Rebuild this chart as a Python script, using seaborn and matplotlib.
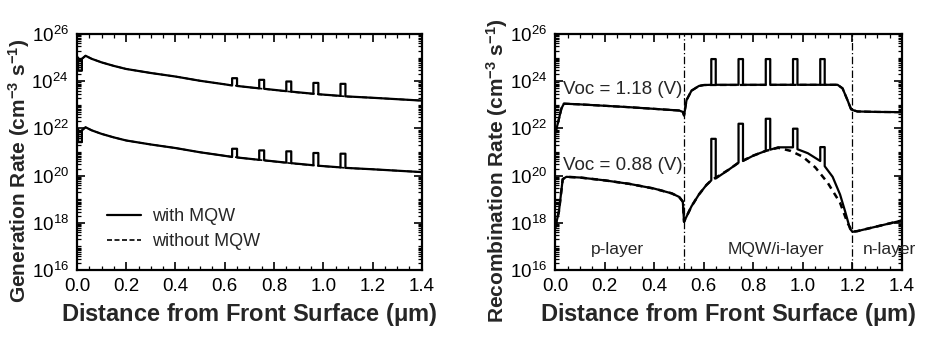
import numpy as np
import pandas as pd
import matplotlib
matplotlib.use("Agg")
import matplotlib.pyplot as plt
import matplotlib.ticker as mticker
import seaborn as sns

# ---------------- data (log10 of rates) ----------------
# Left panel: generation rate, upper curve (with MQW)
gen_hi_x = [0.0, 0.005, 0.005, 0.02, 0.02, 0.035, 0.06, 0.1, 0.15, 0.2, 0.3, 0.4, 0.5, 0.6,
            0.63, 0.63, 0.65, 0.65, 0.74, 0.74, 0.76, 0.76, 0.85, 0.85, 0.87, 0.87,
            0.96, 0.96, 0.98, 0.98, 1.07, 1.07, 1.09, 1.09, 1.2, 1.3, 1.4]
gen_hi_y = [25.0, 25.0, 24.45, 24.45, 24.95, 25.08, 24.95, 24.8, 24.65, 24.52, 24.35, 24.2, 24.02, 23.87,
            23.82, 24.13, 24.13, 23.80, 23.70, 24.06, 24.06, 23.68, 23.58, 23.99, 23.99, 23.56,
            23.47, 23.93, 23.93, 23.45, 23.38, 23.89, 23.89, 23.36, 23.30, 23.24, 23.18]
# upper curve without MQW
gen_hi_nq_x = [0.0, 0.005, 0.005, 0.02, 0.02, 0.035, 0.06, 0.1, 0.15, 0.2, 0.3, 0.4, 0.5, 0.6,
               0.7, 0.8, 0.9, 1.0, 1.1, 1.2, 1.3, 1.4]
gen_hi_nq_y = [25.0, 25.0, 24.45, 24.45, 24.95, 25.08, 24.95, 24.8, 24.65, 24.52, 24.35, 24.2, 24.02, 23.87,
               23.74, 23.63, 23.52, 23.43, 23.35, 23.30, 23.24, 23.18]
# lower curve (with MQW)
gen_lo_x = gen_hi_x
gen_lo_y = [21.97, 21.97, 21.42, 21.42, 21.92, 22.05, 21.92, 21.77, 21.62, 21.49, 21.32, 21.17, 20.99, 20.84,
            20.79, 21.14, 21.14, 20.77, 20.67, 21.07, 21.07, 20.65, 20.55, 21.03, 21.03, 20.53,
            20.44, 20.96, 20.96, 20.42, 20.35, 20.93, 20.93, 20.33, 20.27, 20.21, 20.15]
gen_lo_nq_x = gen_hi_nq_x
gen_lo_nq_y = [21.97, 21.97, 21.42, 21.42, 21.92, 22.05, 21.92, 21.77, 21.62, 21.49, 21.32, 21.17, 20.99, 20.84,
               20.71, 20.60, 20.49, 20.40, 20.32, 20.27, 20.21, 20.15]

# Right panel: recombination rate, Voc = 1.18 V
rec_hi_x = [0.0, 0.01, 0.025, 0.035, 0.1, 0.2, 0.3, 0.4, 0.5, 0.515, 0.52, 0.53, 0.55, 0.58, 0.6,
            0.63, 0.63, 0.648, 0.648, 0.74, 0.74, 0.758, 0.758, 0.85, 0.85, 0.868, 0.868,
            0.96, 0.96, 0.978, 0.978, 1.07, 1.07, 1.088, 1.088, 1.14, 1.16, 1.18, 1.195, 1.22, 1.3, 1.4]
rec_hi_y = [21.8, 22.2, 22.85, 23.05, 23.02, 22.96, 22.9, 22.83, 22.76, 22.7, 22.55, 23.2, 23.6, 23.8, 23.84,
            23.85, 24.94, 24.94, 23.85, 23.85, 24.94, 24.94, 23.85, 23.85, 24.94, 24.94, 23.85,
            23.85, 24.94, 24.94, 23.85, 23.85, 24.94, 24.94, 23.85, 23.85, 23.7, 23.2, 22.8, 22.72, 22.70, 22.69]
rec_hi_nq_x = [0.0, 0.01, 0.025, 0.035, 0.1, 0.2, 0.3, 0.4, 0.5, 0.515, 0.52, 0.53, 0.55, 0.58, 0.6,
               1.14, 1.16, 1.18, 1.195, 1.22, 1.3, 1.4]
rec_hi_nq_y = [21.8, 22.2, 22.85, 23.05, 23.02, 22.96, 22.9, 22.83, 22.76, 22.7, 22.55, 23.2, 23.6, 23.8, 23.84,
               23.85, 23.7, 23.2, 22.8, 22.72, 22.70, 22.69]
# Voc = 0.88 V
rec_lo_x = [0.0, 0.015, 0.03, 0.045, 0.1, 0.2, 0.3, 0.4, 0.47, 0.5, 0.515, 0.52, 0.55, 0.58, 0.61,
            0.63, 0.63, 0.648, 0.648, 0.7, 0.74, 0.74, 0.758, 0.758, 0.8, 0.85, 0.85, 0.868, 0.868,
            0.9, 0.96, 0.96, 0.978, 0.978, 1.02, 1.07, 1.07, 1.088, 1.088, 1.12, 1.15, 1.17, 1.19,
            1.2, 1.22, 1.3, 1.4]
rec_lo_y = [17.8, 18.5, 19.85, 19.95, 19.92, 19.8, 19.65, 19.45, 19.25, 19.1, 18.9, 18.05, 18.7, 19.2, 19.6,
            19.8, 21.56, 21.56, 19.88, 20.25, 20.55, 22.2, 22.2, 20.62, 20.85, 21.05, 22.41, 22.41, 21.1,
            21.2, 21.2, 21.99, 21.99, 21.12, 20.95, 20.62, 21.21, 21.21, 20.4, 19.95, 19.2, 18.5, 17.75,
            17.62, 17.65, 17.85, 18.1]
rec_lo_nq_x = [0.0, 0.015, 0.03, 0.045, 0.1, 0.2, 0.3, 0.4, 0.47, 0.5, 0.515, 0.52, 0.55, 0.58, 0.61,
               0.63, 0.7, 0.74, 0.8, 0.85, 0.9, 0.95, 1.0, 1.05, 1.1, 1.15, 1.18, 1.2, 1.22, 1.3, 1.4]
rec_lo_nq_y = [17.8, 18.5, 19.85, 19.95, 19.92, 19.8, 19.65, 19.45, 19.25, 19.1, 18.9, 18.05, 18.7, 19.2, 19.6,
               19.8, 20.25, 20.55, 20.85, 21.05, 21.18, 21.05, 20.8, 20.35, 19.7, 18.85, 18.0, 17.62, 17.65, 17.85, 18.1]

layer_bounds = [0.52, 1.2]
layer_labels = ["p-layer", "MQW/i-layer", "n-layer"]
layer_label_x = [0.25, 0.89, 1.35]
voc_labels = ["Voc = 1.18 (V)", "Voc = 0.88 (V)"]
voc_label_y = [23.3, 20.05]
legend_labels = ["with MQW", "without MQW"]
y_major_exp = [16, 18, 20, 22, 24, 26]
x_ticks = [0.0, 0.2, 0.4, 0.6, 0.8, 1.0, 1.2, 1.4]

# ---------------- style ----------------
sns.set_style("ticks")
plt.rcParams['font.family'] = ['Liberation Sans', 'DejaVu Sans']
plt.rcParams['mathtext.fontset'] = 'custom'
plt.rcParams['mathtext.rm'] = 'Liberation Sans'
plt.rcParams['mathtext.bf'] = 'Liberation Sans:bold'
plt.rcParams['mathtext.default'] = 'regular'
plt.rcParams['axes.linewidth'] = 1.6

fig = plt.figure(figsize=(9.27, 3.44), dpi=100)
axL = fig.add_axes([0.083, 0.215, 0.372, 0.686])
axR = fig.add_axes([0.599, 0.215, 0.374, 0.686])


def draw(ax, x, y, ls, lw, label=None):
    df = pd.DataFrame({"x": x, "y": 10.0 ** np.asarray(y)})
    sns.lineplot(data=df, x="x", y="y", ax=ax, sort=False, estimator=None,
                 color="black", linestyle=ls, linewidth=lw, label=label)


draw(axL, gen_hi_x, gen_hi_y, "-", 1.6, legend_labels[0])
draw(axL, gen_hi_nq_x, gen_hi_nq_y, (0, (3, 1.5)), 1.2, legend_labels[1])
draw(axL, gen_lo_nq_x, gen_lo_nq_y, (0, (3, 1.5)), 1.2)
draw(axL, gen_lo_x, gen_lo_y, "-", 1.6)

draw(axR, rec_hi_nq_x, rec_hi_nq_y, (0, (3, 1.5)), 1.6)
draw(axR, rec_hi_x, rec_hi_y, "-", 1.6)
draw(axR, rec_lo_nq_x, rec_lo_nq_y, (0, (2.5, 2)), 1.8)
draw(axR, rec_lo_x, rec_lo_y, "-", 1.6)

for xb in layer_bounds:
    axR.axvline(xb, color="black", linestyle=(0, (6, 2, 1, 2)), linewidth=0.9)

for t, ty in zip(voc_labels, voc_label_y):
    axR.text(0.03, 10.0 ** ty, t, fontsize=13.5, ha="left", va="bottom")
for t, tx in zip(layer_labels, layer_label_x):
    axR.text(tx, 10.0 ** 16.85, t, fontsize=12.5, ha="center", va="center")

for ax, ylabel in [(axL, r"Generation Rate (cm$^{\mathbf{-3}}$ s$^{\mathbf{-1}}$)"),
                   (axR, r"Recombination Rate (cm$^{\mathbf{-3}}$ s$^{\mathbf{-1}}$)")]:
    ax.set_yscale("log")
    ax.set_xlim(0, 1.4)
    ax.set_ylim(1e16, 1e26)
    ax.set_xticks(x_ticks)
    ax.xaxis.set_major_formatter(mticker.FormatStrFormatter("%.1f"))
    ax.xaxis.set_minor_locator(mticker.MultipleLocator(0.05))
    ax.yaxis.set_major_locator(mticker.FixedLocator([10.0 ** e for e in y_major_exp]))
    ax.yaxis.set_major_formatter(mticker.LogFormatterMathtext())
    ax.yaxis.set_minor_locator(mticker.LogLocator(base=10, subs=np.arange(1, 10), numticks=200))
    ax.yaxis.set_minor_formatter(mticker.NullFormatter())
    ax.tick_params(which="both", direction="in", top=True, right=True, colors="black")
    ax.tick_params(which="major", length=6, width=1.2, labelsize=13.5, pad=6)
    ax.tick_params(which="minor", length=3, width=0.9)
    ax.set_xlabel(r"Distance from Front Surface ($\mathbf{\mu}$m)", fontsize=17, fontweight="bold", labelpad=4)
    ax.set_ylabel(ylabel, fontsize=15, fontweight="bold")
    ax.yaxis.set_label_coords(-0.13, 0.42)
    for s in ax.spines.values():
        s.set_color("black")

axL.legend(loc="lower left", bbox_to_anchor=(0.04, 0.015), frameon=False, fontsize=13,
           handlelength=1.9, labelspacing=0.45, handletextpad=0.6)

fig.savefig("out.png", dpi=100)
